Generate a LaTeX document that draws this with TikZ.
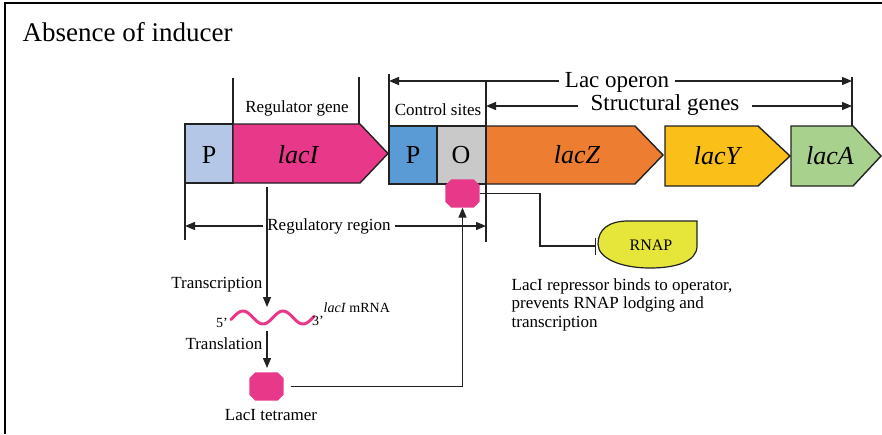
\documentclass[tikz,border=0pt]{standalone}
\usepackage{fontspec}
\setmainfont{Liberation Serif}
\usetikzlibrary{arrows.meta}
\definecolor{pltblue}{HTML}{B4C7E7}
\definecolor{pblue}{HTML}{5B9BD5}
\definecolor{ogrey}{HTML}{C9C9C9}
\definecolor{magen}{HTML}{E8388A}
\definecolor{zorange}{HTML}{ED7D31}
\definecolor{yyellow}{HTML}{FBBF1A}
\definecolor{agreen}{HTML}{A9D18E}
\definecolor{rnapy}{HTML}{E6E63A}
\definecolor{ink}{HTML}{222222}
\begin{document}
\begin{tikzpicture}[x=1pt,y=-1pt,line width=1.3pt,
  ln/.style={draw=ink,line width=1.3pt},
  tip/.style={ln,-{Triangle[length=10pt,width=8pt]}},
  dtip/.style={ln,{Triangle[length=10pt,width=8pt]}-{Triangle[length=10pt,width=8pt]}},
  gene/.style={draw=ink,line width=1.4pt},
  boxtxt/.style={font=\fontsize{26}{28}\selectfont,anchor=base,inner sep=0pt},
  geneit/.style={font=\fontsize{26}{28}\selectfont\itshape,anchor=base,inner sep=0pt},
  lbl/.style={font=\fontsize{17}{19}\selectfont,anchor=base,inner sep=0pt},
  biglbl/.style={font=\fontsize{23}{25}\selectfont,anchor=base,fill=white,inner ysep=2pt},
  small/.style={font=\fontsize{14}{16}\selectfont,anchor=base,inner sep=0pt},
  prot/.style={rectangle,draw=none,fill=none,minimum width=33pt,minimum height=27pt,inner sep=0pt,
    append after command={\pgfextra{\fill[magen] ([xshift=6pt]\tikzlastnode.north west) -- ([xshift=-6pt]\tikzlastnode.north east) -- ([yshift=-6pt]\tikzlastnode.north east) -- ([yshift=6pt]\tikzlastnode.south east) -- ([xshift=-6pt]\tikzlastnode.south east) -- ([xshift=6pt]\tikzlastnode.south west) -- ([yshift=6pt]\tikzlastnode.south west) -- ([yshift=-6pt]\tikzlastnode.north west) -- cycle;}}}
]
\useasboundingbox (0,0) rectangle (882,434);
\draw[line width=2.2pt] (5,434) -- (5,3) -- (882,3);

\node[font=\fontsize{27}{30}\selectfont,anchor=base west,inner sep=0pt] (title) at (22,41) {Absence of inducer};

% gene boxes
\draw[gene,fill=pltblue] (185,124) rectangle (233,183);
\node[boxtxt] (p1) at (209,163) {P};
\draw[gene,fill=magen] (233,124) -- (360,124) -- (388,153.5) -- (360,183) -- (233,183) -- cycle;
\node[geneit] (laci) at (298,163) {lacI};
\draw[gene,fill=pblue] (389,126) rectangle (437,184);
\node[boxtxt] (p2) at (413,163) {P};
\draw[gene,fill=ogrey] (437,126) rectangle (486,184);
\node[boxtxt] (o) at (461,163) {O};
\draw[gene,fill=zorange] (486,126) -- (635,126) -- (663,155) -- (635,184) -- (486,184) -- cycle;
\node[geneit] (lacz) at (577,163) {lacZ};
\draw[gene,fill=yyellow] (665,126) -- (758,126) -- (790,156) -- (758,186) -- (665,186) -- cycle;
\node[geneit] (lacy) at (717,164) {lacY};
\draw[gene,fill=agreen] (791,126) -- (853,126) -- (881,156) -- (853,186) -- (791,186) -- cycle;
\node[geneit] (laca) at (830,164) {lacA};

% bracket verticals
\coordinate (rgL) at (233,78);  \coordinate (rgLb) at (233,124);
\coordinate (rgR) at (359,77);  \coordinate (rgRb) at (359,124);
\coordinate (opL) at (389,74);  \coordinate (opLb) at (389,126);
\coordinate (stL) at (486,81);  \coordinate (stLb) at (486,242);
\coordinate (opR) at (852,77);  \coordinate (opRb) at (852,126);
\coordinate (rrLt) at (185,183); \coordinate (rrLb) at (185,240);
\draw[ln] (rgL) -- (rgLb);
\draw[ln] (rgR) -- (rgRb);
\draw[ln] (opL) -- (opLb);
\draw[ln] (stL) -- (stLb);
\draw[ln] (opR) -- (opRb);
\draw[ln] (rrLt) -- (rrLb);

\node[lbl] (reggene) at (297,112) {Regulator gene};
\node[lbl] (ctrl) at (438,115) {Control sites};

% Lac operon / structural genes
\coordinate (lo1) at (389,81); \coordinate (lo2) at (852,81);
\draw[dtip] (lo1) -- (lo2);
\node[biglbl,inner xsep=6pt] (lacop) at (617,87) {Lac operon};
\coordinate (sg1) at (486,106); \coordinate (sg2) at (852,106);
\draw[dtip] (sg1) -- (sg2);
\node[biglbl,inner xsep=13pt] (struct) at (665,110) {Structural genes};

% regulatory region
\coordinate (rr1) at (185,226); \coordinate (rr2) at (486,226);
\draw[dtip] (rr1) -- (rr2);
\node[lbl,fill=white,inner xsep=4pt,inner ysep=2pt] (regreg) at (329,230) {Regulatory region};

% transcription
\coordinate (tr1) at (267,187); \coordinate (tr2) at (267,307);
\draw[tip] (tr1) -- (tr2);
\node[lbl,anchor=base east] (transc) at (263,288) {Transcription};

% mRNA
\draw[magen,line width=3pt,line cap=round] plot[domain=231:314,samples=80,smooth] (\x,{317.5-6.5*sin(9*(\x-233))});
\node[small] (five) at (222,327) {5’};
\node[small] (three) at (318,325) {3’};
\node[small,anchor=base west] (mrna) at (323,312) {\textit{lacI} mRNA};

% translation
\coordinate (tl1) at (267,331); \coordinate (tl2) at (267,368);
\draw[tip] (tl1) -- (tl2);
\node[lbl,anchor=base east] (transl) at (263,349) {Translation};

% proteins
\node[prot] (tet) at (266.5,386.5) {};
\node[lbl] (tetlbl) at (271,420) {LacI tetramer};
\node[prot] (rep) at (462.5,193.5) {};
\draw[tip,shorten <=7pt] (tet.east) -| (rep.south);

% RNAP
\draw[gene,fill=rnapy,line width=1.2pt] (697,221) -- (697,246) .. controls (697,262) and (675,268) .. (650,268) .. controls (620,268) and (598,258) .. (598,244) .. controls (598,230) and (608,221) .. (628,221) -- cycle;
\node[font=\fontsize{16}{18}\selectfont,anchor=base,inner sep=0pt] (rnap) at (651,250) {RNAP};
\coordinate (bend) at (540,246);
\coordinate (rnapW) at (596,246);
\draw[ln,line width=1.1pt,-{Bar[width=17pt,line width=1.3pt]}] (rep.east) -| (bend) -- (rnapW);

\node[lbl,anchor=base west,align=left] (note1) at (511,290) {LacI repressor binds to operator,};
\node[lbl,anchor=base west] (note2) at (511,308.5) {prevents RNAP lodging and};
\node[lbl,anchor=base west] (note3) at (511,327) {transcription};
\end{tikzpicture}
\end{document}
